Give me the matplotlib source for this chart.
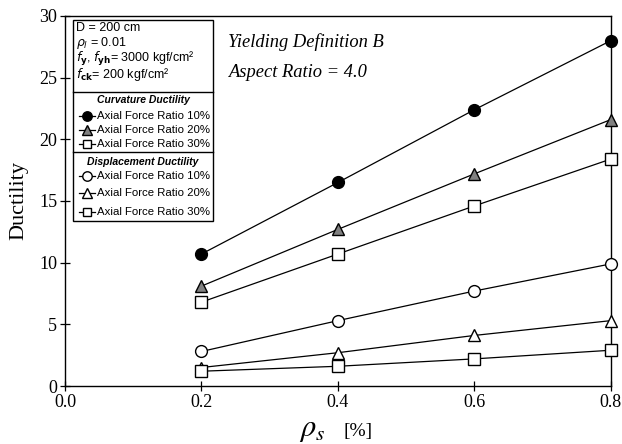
import numpy as np
import matplotlib
matplotlib.use("Agg")
import matplotlib.pyplot as plt
from matplotlib.patches import Rectangle
from matplotlib.lines import Line2D

plt.rcParams['mathtext.fontset'] = 'stix'

# steel ratio rho_s [%]
rho_s = [0.2, 0.4, 0.6, 0.8]

# curvature ductility, axial force ratio 10 / 20 / 30 %
curv_10 = [10.7, 16.5, 22.4, 28.0]
curv_20 = [8.1, 12.7, 17.2, 21.6]
curv_30 = [6.8, 10.7, 14.6, 18.4]

# displacement ductility, axial force ratio 10 / 20 / 30 %
disp_10 = [2.8, 5.3, 7.7, 9.9]
disp_20 = [1.5, 2.7, 4.1, 5.3]
disp_30 = [1.2, 1.6, 2.2, 2.9]

entry_label = ['Axial Force Ratio 10%', 'Axial Force Ratio 20%', 'Axial Force Ratio 30%']
params_text = ['D = 200 cm',
               r'$\rho_l$ = 0.01',
               r'$f_\mathbf{y}$, $f_\mathbf{yh}$= 3000 kgf/cm²',
               r'$f_\mathbf{ck}$= 200 kgf/cm²']

# marker styles for each series
styles = [
    dict(marker='o', mfc='black', ms=8.5),
    dict(marker='^', mfc='#808080', ms=9),
    dict(marker='s', mfc='white', ms=8),
    dict(marker='o', mfc='white', ms=8.5),
    dict(marker='^', mfc='white', ms=9),
    dict(marker='s', mfc='white', ms=8),
]
series = [curv_10, curv_20, curv_30, disp_10, disp_20, disp_30]

fig = plt.figure(figsize=(6.22, 4.44), dpi=100)
ax = fig.add_axes([0.1045, 0.1306, 0.8775, 0.8334])

for ys, st in zip(series, styles):
    ax.plot(rho_s, ys, color='black', lw=0.9, mec='black', mew=1.0,
            clip_on=False, zorder=3, **st)

ax.set_xlim(0, 0.8)
ax.set_ylim(0, 30)
ax.set_xticks([0.0, 0.2, 0.4, 0.6, 0.8])
ax.set_xticklabels(['0.0', '0.2', '0.4', '0.6', '0.8'])
ax.set_yticks([0, 5, 10, 15, 20, 25, 30])
ax.tick_params(direction='inout', length=7, width=0.9, labelsize=13, pad=2)
for lab in ax.get_xticklabels() + ax.get_yticklabels():
    lab.set_fontfamily('Liberation Serif')
for sp in ax.spines.values():
    sp.set_linewidth(1.0)

ax.set_ylabel('Ductility', fontfamily='Liberation Serif', fontsize=16)
ax.yaxis.set_label_coords(-0.068, 0.5)
ax.text(0.477, -0.118, r'$\rho_s$', transform=ax.transAxes, ha='right', va='center',
        fontsize=22)
ax.text(0.51, -0.122, '[%]', transform=ax.transAxes, ha='left', va='center',
        fontsize=14, fontfamily='Liberation Serif')

# annotation
for yy, s in [(0.930, 'Yielding Definition B'), (0.846, 'Aspect Ratio = 4.0')]:
    ax.text(0.299, yy, s, transform=ax.transAxes, ha='left', va='center',
            fontsize=13.3, fontfamily='Liberation Serif', style='italic')

# legend box drawn by hand
tr = ax.transAxes
bx0, bx1, by0, by1 = 0.0147, 0.271, 0.446, 0.989
ax.add_patch(Rectangle((bx0, by0), bx1 - bx0, by1 - by0, transform=tr,
                       fill=True, fc='white', ec='black', lw=1.0, zorder=5))
for sy in [0.795, 0.632]:
    ax.add_line(Line2D([bx0, bx1], [sy, sy], transform=tr, color='black', lw=1.0, zorder=6))

for yy, s in zip([0.968, 0.928, 0.885, 0.841], params_text):
    ax.text(0.021, yy, s, transform=tr, ha='left', va='center', fontsize=9.0,
            fontfamily='Liberation Sans', math_fontfamily='dejavusans', zorder=7)

headers = [(0.773, 'Curvature Ductility'), (0.605, 'Displacement Ductility')]
for yy, s in headers:
    ax.text((bx0 + bx1) / 2, yy, s, transform=tr, ha='center', va='center',
            fontsize=7.5, fontfamily='Liberation Sans', weight='bold', style='italic', zorder=7)

entry_y = [0.730, 0.693, 0.655, 0.568, 0.522, 0.470]
for i, (yy, st) in enumerate(zip(entry_y, styles)):
    st_leg = dict(st)
    st_leg['ms'] = st['ms'] * 0.8
    ax.add_line(Line2D([0.026, 0.055], [yy, yy], transform=tr, color='black', lw=0.9,
                       zorder=7))
    ax.add_line(Line2D([0.0405], [yy], transform=tr, color='black', mec='black',
                       mew=1.0, ls='none', zorder=8, **st_leg))
    ax.text(0.058, yy, entry_label[i % 3], transform=tr, ha='left', va='center',
            fontsize=8.2, fontfamily='Liberation Sans', zorder=7)

fig.savefig('out.png', dpi=100)
